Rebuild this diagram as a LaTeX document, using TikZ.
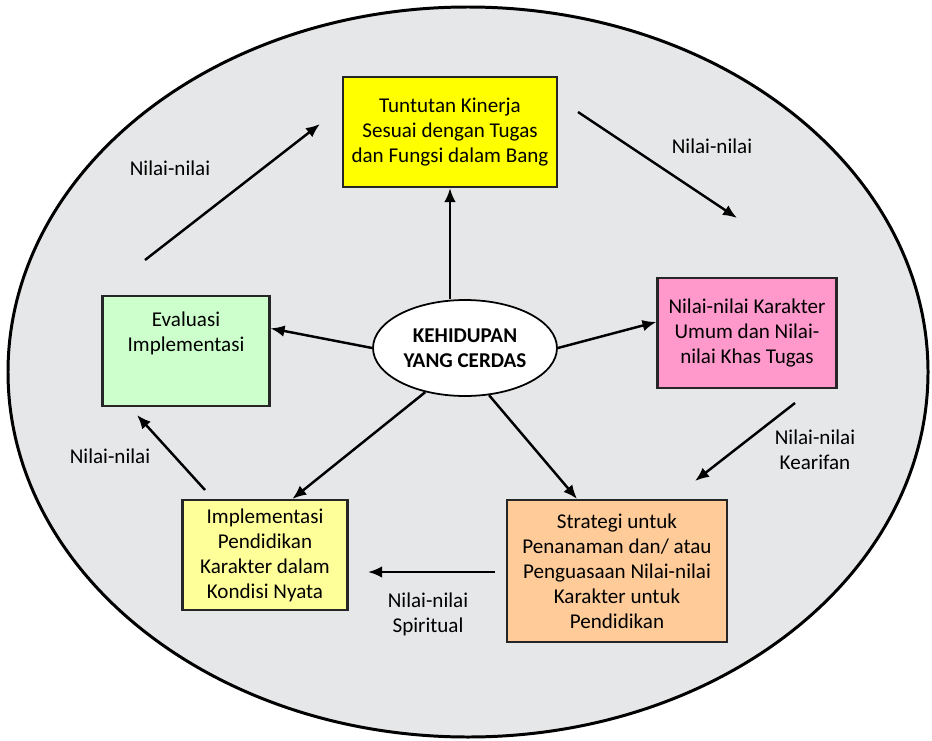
\documentclass[tikz,border=0pt]{standalone}
\usepackage{fontspec}
\setmainfont{Carlito}
\usetikzlibrary{shapes.geometric,arrows.meta}

\definecolor{latar}{HTML}{E6E7E8}
\definecolor{kuning}{HTML}{FFFF00}
\definecolor{kuningmuda}{HTML}{FFFF99}
\definecolor{merah}{HTML}{FF99CC}
\definecolor{hijau}{HTML}{CCFFCC}
\definecolor{oranye}{HTML}{FFCC99}

\begin{document}
\begin{tikzpicture}[x=0.02cm,y=-0.02cm,
		kotak/.style={draw=black!85,line width=1.2pt,align=center,font=\fontsize{12}{14.2}\selectfont},
		panah/.style={-{Latex[length=2.8mm,width=2.3mm]},line width=1.4pt},
		ket/.style={align=center,font=\fontsize{12}{14.2}\selectfont}]
			\useasboundingbox (0,0) rectangle (932,740);
			% latar elips
			\draw [fill=latar,line width=1.7pt] (468,372) ellipse [x radius=460,y radius=365];
			
			\node [kotak,fill=kuning,minimum width=4.28cm,minimum height=2.2cm] (Tun) at (450,132) {Tuntutan Kinerja\\Sesuai dengan Tugas\\dan Fungsi dalam Bang};
			\node [draw,ellipse,fill=white,line width=1pt,inner sep=1pt,minimum width=3.68cm,minimum height=1.92cm,align=center,font=\bfseries\fontsize{12}{14.2}\selectfont] (Ked) at (465,348) {KEHIDUPAN\\YANG CERDAS};
			\node [kotak,fill=merah,minimum width=3.58cm,minimum height=2.2cm] (Nil) at (747,333) {Nilai-nilai Karakter\\Umum dan Nilai-\\nilai Khas Tugas};
			\node [kotak,fill=hijau,minimum width=3.34cm,text height=1cm,text depth=0.98cm] (Eva) at (186,351) {Evaluasi\\Implementasi};
			\node [kotak,fill=kuningmuda,minimum width=3.3cm,minimum height=2.2cm] (Imp) at (265,555) {Implementasi\\Pendidikan\\Karakter dalam\\Kondisi Nyata};
			\node [kotak,fill=oranye,minimum width=4.4cm,minimum height=2.84cm] (Str) at (617,571) {Strategi untuk\\Penanaman dan/ atau\\Penguasaan Nilai-nilai\\Karakter untuk\\Pendidikan};
			
			% panah dari pusat
			\draw [panah] (Ked.north -| Tun.south) -- (Tun.south);
			\draw [panah] (Ked.west) -- (Eva.15);
			\draw [panah] (Ked.east) -- (Nil.173);
			\draw [panah] (Ked.228) -- (Imp.64);
			\draw [panah] (Ked.297) -- (Str.119);
			
			% panah keliling
			\coordinate (a1) at (145,260);
			\coordinate (b1) at (320,124);
			\coordinate (a2) at (578,112);
			\coordinate (b2) at (737,218);
			\coordinate (a3) at (795,403);
			\coordinate (b3) at (695,481);
			\coordinate (a4) at (495,572);
			\coordinate (b4) at (368,572);
			\coordinate (a5) at (205,490);
			\coordinate (b5) at (137,415);
			\draw [panah] (a1) -- (b1);
			\draw [panah] (a2) -- (b2);
			\draw [panah] (a3) -- (b3);
			\draw [panah] (a4) -- (b4);
			\draw [panah] (a5) -- (b5);
			
			\node [ket] (k1) at (170,168) {Nilai-nilai};
			\node [ket] (k2) at (712,146) {Nilai-nilai};
			\node [ket] (k3) at (815,450) {Nilai-nilai\\Kearifan};
			\node [ket] (k4) at (428,614) {Nilai-nilai\\Spiritual};
			\node [ket] (k5) at (110,456) {Nilai-nilai};
		\end{tikzpicture}
\end{document}
